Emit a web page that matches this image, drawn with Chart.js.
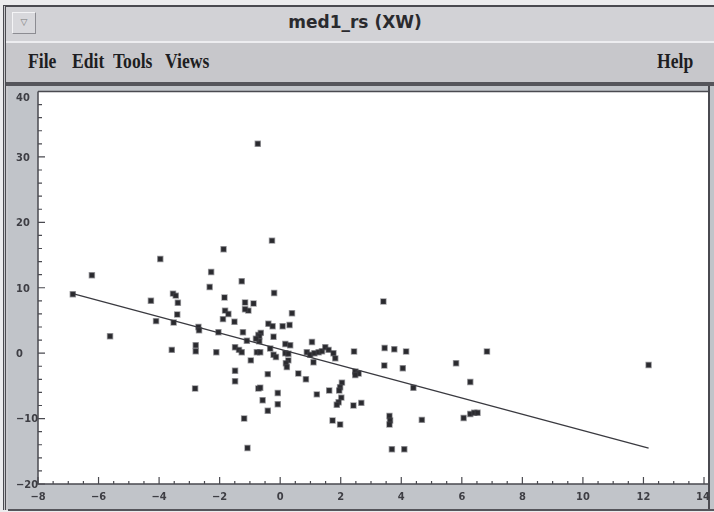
<!DOCTYPE html>
<html>
<head>
<meta charset="utf-8">
<script src="https://cdn.jsdelivr.net/npm/chart.js@4/dist/chart.umd.min.js"></script>
<style>
    html, body { margin: 0; padding: 0; }
    body { width: 714px; height: 512px; background: #ececee; position: relative; overflow: hidden; }
    #win { position: absolute; left: 3px; top: 5px; width: 740px; height: 505px; background: #c9c9cd;
           border-left: 3px double #4a4a50; border-top: 2px solid #4a4a50; box-sizing: border-box; }
    #titlebar { position: absolute; left: 0; top: 0; right: 0; height: 34px; background: #d2d2d6;
                border-bottom: 2px solid #ededf0; }
    #title { position: absolute; left: 0; width: 698px; top: 5px; text-align: center;
             font: bold 17px "DejaVu Sans", sans-serif; color: #2a2a2e; }
    #btn { position: absolute; left: 6px; top: 5px; width: 22px; height: 20px; background: #d8d8dc;
           border: 1px solid #8c8c92; border-top-color: #f4f4f6; border-left-color: #f4f4f6;
           font: 9px "DejaVu Sans", sans-serif; color: #777; text-align: center; line-height: 18px; }
    #menubar { position: absolute; left: 0; top: 36px; right: 0; height: 39px; background: #c7c7cb; }
    .menu { position: absolute; top: 7px; font: bold 20px "Liberation Serif", serif; color: #1e1e22;
            transform: scaleX(0.88); transform-origin: left center; }
    #sep { position: absolute; left: 0; top: 75px; right: 0; height: 4px; background: #55555b; }
    #panel { position: absolute; left: 2px; top: 79px; width: 706px; height: 423px; background: #c1c4c9;
             border-bottom: 2px solid #55555b; }
    #chart { position: absolute; left: 0; top: 0; }
</style>
</head>
<body>
<div id="win">
    <div id="titlebar">
        <div id="btn">&#9661;</div>
        <div id="title">med1_rs (XW)</div>
    </div>
    <div id="menubar">
        <span class="menu" style="left:22px">File</span>
        <span class="menu" style="left:66px">Edit</span>
        <span class="menu" style="left:107px">Tools</span>
        <span class="menu" style="left:159px">Views</span>
        <span class="menu" style="left:651px">Help</span>
    </div>
    <div id="sep"></div>
    <div id="panel"><canvas id="chart" width="706" height="423"></canvas></div>
</div>
<script>
    // scatter values
    var xVals = [-6.85, -6.22, -5.62, -4.27, -4.1, -3.96, -3.54, -3.45, -3.38, -3.4,
                 -3.52, -3.58, -2.79, -2.79, -2.81, -2.7, -2.68, -2.33, -2.28, -2.11,
                 -2.04, -1.87, -1.84, -1.82, -1.71, -1.89, -1.51, -1.49, -1.36, -1.27,
                 -1.49, -1.49, -1.27, -1.23, -1.16, -0.88, -1.05, -1.16, -1.1, -0.97,
                 -0.72, -0.77, -0.66, -0.72, -1.19, -1.08, -0.74, -0.27, -0.2, 0.39,
                 -0.39, -0.25, 0.08, 0.31, -0.64, -0.69, -0.22, -0.69, -0.8, 0.17,
                 0.33, 1.05, -0.33, -0.22, -0.14, 0.17, 0.27, 0.88, 0.99, 1.13,
                 1.27, 1.38, 1.49, 1.6, 1.76, 1.82, 1.1, 0.27, 0.19, 0.22,
                 2.44, -0.41, 0.6, 0.85, 2.48, 2.59, 2.48, 3.45, 3.77, 4.16,
                 3.44, 4.05, -0.66, -0.08, -0.58, -0.08, -0.41, 1.21, 1.62, 2.04,
                 1.98, 1.95, 2.02, 1.93, 1.87, 2.42, 2.68, 1.73, 1.98, 3.41,
                 5.81, 6.83, 6.28, 4.4, 3.61, 3.63, 3.61, 4.68, 6.06, 6.28,
                 6.41, 6.52, 3.69, 4.1, 12.17];
    var yVals = [9.0, 11.9, 2.6, 8.0, 4.9, 14.4, 9.1, 8.8, 7.7, 5.9,
                 4.7, 0.5, 1.2, 0.3, -5.4, 4.0, 3.5, 10.1, 12.4, 0.15,
                 3.2, 15.9, 8.5, 6.5, 6.0, 5.2, 4.8, 0.9, 0.5, 0.15,
                 -2.7, -4.3, 11.0, 3.2, 7.75, 7.6, 6.5, 6.7, 1.9, -1.1,
                 2.8, 0.15, 0.15, -5.4, -10.0, -14.5, 32.0, 17.2, 9.2, 6.1,
                 4.5, 4.1, 4.1, 4.3, 3.1, 2.6, 2.5, 1.8, 2.2, 1.4,
                 1.2, 1.7, 0.7, -0.25, -0.6, 0.0, -0.1, 0.15, -0.25, 0.0,
                 0.15, 0.3, 0.9, 0.5, 0.0, -0.8, -1.4, -1.1, -1.55, -2.1,
                 0.26, -3.2, -3.1, -4.0, -2.8, -3.1, -3.35, 0.8, 0.6, 0.26,
                 -1.9, -2.3, -5.3, -6.1, -7.2, -7.8, -8.8, -6.3, -5.7, -4.5,
                 -5.2, -5.7, -6.8, -7.5, -7.9, -8.0, -7.6, -10.3, -10.9, 7.9,
                 -1.55, 0.26, -4.4, -5.3, -9.6, -10.3, -10.9, -10.2, -9.9, -9.3,
                 -9.1, -9.1, -14.7, -14.7, -1.8];

    // fitted line end points
    var fitX = [-6.85, 12.17];
    var fitY = [9.1, -14.5];

    var xTicks = [-8, -6, -4, -2, 0, 2, 4, 6, 8, 10, 12, 14];
    var yTicks = [-20, -10, 0, 10, 20, 30, 40];
    var xMinorStep = 0.5;
    var yMinorStep = 2;

    var points = [];
    for (var i = 0; i < xVals.length; i++) {
        points.push({x: xVals[i], y: yVals[i]});
    }
    var fitLine = [];
    for (var j = 0; j < fitX.length; j++) {
        fitLine.push({x: fitX[j], y: fitY[j]});
    }

    var labelFont = 'bold 11px "DejaVu Sans Condensed", "DejaVu Sans", sans-serif';
    var boxExtraRight = 4;

    // white plot box, inward ticks and tick labels drawn from the scales
    var plotFrame = {
        id: 'plotFrame',
        beforeDraw: function (chart) {
            var a = chart.chartArea, c = chart.ctx;
            c.save();
            c.fillStyle = '#ffffff';
            c.fillRect(a.left, a.top, a.right - a.left + boxExtraRight, a.bottom - a.top);
            c.restore();
        },
        afterDraw: function (chart) {
            var a = chart.chartArea, c = chart.ctx;
            var xs = chart.scales.x, ys = chart.scales.y;
            var boxRight = a.right + boxExtraRight;
            c.save();
            c.strokeStyle = '#4a4a50';
            c.lineWidth = 1.5;
            c.beginPath();
            c.moveTo(a.left, a.top);
            c.lineTo(boxRight, a.top);
            c.moveTo(a.left, a.top);
            c.lineTo(a.left, a.bottom);
            c.lineTo(boxRight, a.bottom);
            c.stroke();
            // panel edge on the right, shared with the box
            c.lineWidth = 2;
            c.beginPath();
            c.moveTo(boxRight + 1, 0);
            c.lineTo(boxRight + 1, chart.height);
            c.stroke();
            c.lineWidth = 1.2;
            c.beginPath();
            var v, p, len, k;
            for (v = xs.min; v <= xs.max + 1e-9; v += xMinorStep) {
                p = xs.getPixelForValue(v);
                len = (Math.abs(v % 2) < 1e-9) ? 7 : 3;
                c.moveTo(p, a.bottom);
                c.lineTo(p, a.bottom - len);
            }
            for (v = ys.min; v <= ys.max + 1e-9; v += yMinorStep) {
                p = ys.getPixelForValue(v);
                len = (Math.abs(v % 10) < 1e-9) ? 7 : 4;
                c.moveTo(a.left, p);
                c.lineTo(a.left + len, p);
            }
            c.stroke();

            c.fillStyle = '#3e3e44';
            c.font = labelFont;
            c.textBaseline = 'middle';
            c.textAlign = 'center';
            for (k = 0; k < xTicks.length; k++) {
                p = Math.min(xs.getPixelForValue(xTicks[k]), a.right - 1);
                c.fillText(String(xTicks[k]).replace('-', '\u2212'), p, a.bottom + 13);
            }
            c.textAlign = 'left';
            for (k = 0; k < yTicks.length; k++) {
                p = Math.max(ys.getPixelForValue(yTicks[k]) + 1, a.top + 7);
                c.fillText(String(yTicks[k]).replace('-', '\u2212'), 8, p);
            }
            c.restore();
        }
    };

    new Chart(document.getElementById('chart'), {
        type: 'scatter',
        data: {
            datasets: [
                {
                    data: points,
                    pointStyle: 'rect',
                    pointRadius: 3.5,
                    backgroundColor: '#2a2a2e',
                    borderColor: 'rgba(70,70,76,0.5)',
                    borderWidth: 1.5
                },
                {
                    type: 'line',
                    data: fitLine,
                    borderColor: '#3a3a40',
                    borderWidth: 1.3,
                    pointRadius: 0,
                    fill: false
                }
            ]
        },
        options: {
            responsive: false,
            animation: false,
            events: [],
            layout: {padding: {top: 5, right: 10, left: 0, bottom: 0}},
            plugins: {legend: {display: false}, tooltip: {enabled: false}},
            scales: {
                x: {
                    type: 'linear', min: -8, max: 14,
                    grid: {display: false, drawTicks: false},
                    border: {display: false},
                    ticks: {display: false},
                    afterFit: function (s) { s.height = 25; s.paddingLeft = 0; s.paddingRight = 0; }
                },
                y: {
                    type: 'linear', min: -20, max: 40,
                    grid: {display: false, drawTicks: false},
                    border: {display: false},
                    ticks: {display: false},
                    afterFit: function (s) { s.width = 30; s.paddingTop = 0; s.paddingBottom = 0; }
                }
            }
        },
        plugins: [plotFrame]
    });
</script>
</body>
</html>
